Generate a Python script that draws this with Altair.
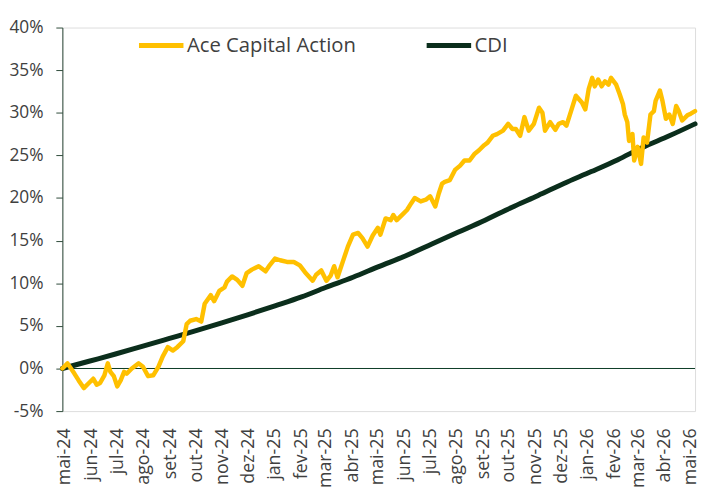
import altair as alt
import pandas as pd

MONTHS_PT = ['jan', 'fev', 'mar', 'abr', 'mai', 'jun', 'jul', 'ago', 'set', 'out', 'nov', 'dez']
SERIES = ['Ace Capital Action', 'CDI']
COLORS = ['#FFC000', '#0B2E1C']
Y_TICKS = [-5, 0, 5, 10, 15, 20, 25, 30, 35, 40]
X_DOMAIN = ['2024-04-28', '2026-05-06']

ace_dates = [
    '2024-04-28', '2024-05-04', '2024-05-12', '2024-05-17', '2024-05-23', '2024-05-29', '2024-06-03',
    '2024-06-07', '2024-06-11', '2024-06-16', '2024-06-20', '2024-06-23', '2024-06-27', '2024-07-01',
    '2024-07-05', '2024-07-09', '2024-07-12', '2024-07-18', '2024-07-26', '2024-07-31', '2024-08-06',
    '2024-08-12', '2024-08-18', '2024-08-23', '2024-08-29', '2024-09-04', '2024-09-09', '2024-09-16',
    '2024-09-20', '2024-09-24', '2024-10-01', '2024-10-07', '2024-10-11', '2024-10-18', '2024-10-22',
    '2024-10-28', '2024-11-03', '2024-11-06', '2024-11-12', '2024-11-18', '2024-11-24', '2024-11-29',
    '2024-12-05', '2024-12-13', '2024-12-21', '2024-12-25', '2025-01-01', '2025-01-07', '2025-01-15',
    '2025-01-23', '2025-01-30', '2025-02-05', '2025-02-14', '2025-02-18', '2025-02-24', '2025-03-02',
    '2025-03-07', '2025-03-11', '2025-03-15', '2025-03-22', '2025-03-27', '2025-04-02', '2025-04-08',
    '2025-04-13', '2025-04-19', '2025-04-25', '2025-05-01', '2025-05-04', '2025-05-10', '2025-05-16',
    '2025-05-19', '2025-05-23', '2025-05-29', '2025-06-04', '2025-06-09', '2025-06-13', '2025-06-20',
    '2025-06-26', '2025-07-01', '2025-07-07', '2025-07-11', '2025-07-15', '2025-07-18', '2025-07-24',
    '2025-07-30', '2025-08-05', '2025-08-10', '2025-08-16', '2025-08-22', '2025-08-27', '2025-09-02',
    '2025-09-06', '2025-09-12', '2025-09-17', '2025-09-24', '2025-09-30', '2025-10-05', '2025-10-09',
    '2025-10-14', '2025-10-19', '2025-10-24', '2025-10-30', '2025-11-05', '2025-11-09', '2025-11-12',
    '2025-11-18', '2025-11-24', '2025-11-28', '2025-12-03', '2025-12-07', '2025-12-13', '2025-12-18',
    '2025-12-25', '2025-12-29', '2026-01-02', '2026-01-06', '2026-01-09', '2026-01-13', '2026-01-17',
    '2026-01-21', '2026-01-25', '2026-01-28', '2026-02-03', '2026-02-07', '2026-02-11', '2026-02-13',
    '2026-02-16', '2026-02-18', '2026-02-22', '2026-02-24', '2026-02-28', '2026-03-04', '2026-03-07',
    '2026-03-11', '2026-03-15', '2026-03-19', '2026-03-21', '2026-03-26', '2026-03-29', '2026-04-02',
    '2026-04-06', '2026-04-10', '2026-04-14', '2026-04-17', '2026-04-21', '2026-04-27', '2026-05-01',
    '2026-05-06',
]
ace_values = [
    0.0, 0.6, -0.6, -1.4, -2.3, -1.7, -1.2,
    -1.9, -1.7, -0.8, 0.6, -0.4, -0.9, -2.1,
    -1.4, -0.4, -0.6, 0.0, 0.6, 0.2, -0.9,
    -0.8, 0.2, 1.4, 2.5, 2.1, 2.5, 3.2,
    5.2, 5.6, 5.8, 5.5, 7.6, 8.6, 7.9,
    9.1, 9.5, 10.2, 10.8, 10.4, 9.7, 11.2,
    11.6, 12.0, 11.4, 12.0, 12.9, 12.7, 12.5,
    12.5, 12.1, 11.3, 10.3, 11.0, 11.5, 10.3,
    10.9, 12.0, 10.7, 12.8, 14.3, 15.7, 15.9,
    15.3, 14.3, 15.6, 16.5, 15.7, 17.6, 17.4,
    18.0, 17.4, 18.0, 18.6, 19.4, 20.0, 19.6,
    19.8, 20.2, 19.0, 20.5, 21.7, 21.9, 22.1,
    23.3, 23.8, 24.4, 24.4, 25.2, 25.6, 26.2,
    26.5, 27.3, 27.5, 27.9, 28.7, 28.1, 28.1,
    27.3, 29.5, 27.9, 28.7, 30.6, 30.0, 27.9,
    28.9, 28.0, 28.7, 28.9, 28.5, 30.4, 32.0,
    31.2, 30.4, 32.8, 34.1, 33.1, 33.9, 33.1,
    33.7, 33.3, 34.1, 33.3, 32.2, 31.0, 29.8,
    28.9, 26.7, 27.5, 24.4, 26.0, 24.0, 27.1,
    26.5, 29.8, 30.2, 31.4, 32.6, 31.4, 29.3,
    29.8, 28.7, 30.8, 30.2, 29.1, 29.7, 29.9,
    30.2,
]

cdi_dates = [
    '2024-04-28', '2024-05-29', '2024-06-29', '2024-07-30', '2024-08-30', '2024-09-30', '2024-10-31',
    '2024-11-30', '2025-01-01', '2025-02-01', '2025-03-01', '2025-04-02', '2025-05-02', '2025-06-02',
    '2025-07-03', '2025-08-03', '2025-09-03', '2025-10-04', '2025-11-04', '2025-12-04', '2026-01-05',
    '2026-02-05', '2026-03-05', '2026-04-06', '2026-05-06',
]
cdi_values = [
    0.0, 0.85, 1.7, 2.6, 3.5, 4.4, 5.35,
    6.3, 7.35, 8.4, 9.5, 10.7, 11.95, 13.2,
    14.6, 16.0, 17.4, 18.9, 20.3, 21.7, 23.1,
    24.5, 25.9, 27.3, 28.7,
]

df_ace = pd.DataFrame({'data': ace_dates, 'valor': ace_values, 'serie': SERIES[0]})
df_cdi = pd.DataFrame({'data': cdi_dates, 'valor': cdi_values, 'serie': SERIES[1]})
df_zero = pd.DataFrame({'valor': [0]})

TEXT = '#404040'
AXIS_COL = '#2E4A3A'
FONT = 'Open Sans'


def utc_day(s):
    y, m, d = (int(p) for p in s.split('-'))
    return alt.DateTime(year=y, month=m, date=d, utc=True)


month_ticks = []
for yy in (2024, 2025, 2026):
    for mm in range(1, 13):
        if (2024, 5) <= (yy, mm) <= (2026, 5):
            month_ticks.append(alt.DateTime(year=yy, month=mm, date=1, utc=True))

month_arr = '[' + ','.join("'%s'" % m for m in MONTHS_PT) + ']'
label_expr = month_arr + "[utcmonth(datum.value)] + '-' + utcFormat(datum.value, '%y')"

x_enc = alt.X(
    'data:T',
    scale=alt.Scale(type='utc', domain=[utc_day(X_DOMAIN[0]), utc_day(X_DOMAIN[1])]),
    axis=alt.Axis(values=month_ticks, labelExpr=label_expr, labelAngle=-90, ticks=False,
                  domain=False, grid=False, labelPadding=17, labelFontSize=18,
                  labelColor=TEXT, labelFont=FONT, labelOverlap=False, labelFlush=False,
                  title=None),
)
y_enc = alt.Y(
    'valor:Q',
    scale=alt.Scale(domain=[-5, 40], nice=False, zero=False),
    axis=alt.Axis(values=Y_TICKS, labelExpr="datum.value + '%'", tickSize=6.6,
                  labelPadding=13, domainColor=AXIS_COL, tickColor=AXIS_COL, grid=False,
                  labelFontSize=17.5, labelColor=TEXT, labelFont=FONT, title=None),
)
color_enc = alt.Color(
    'serie:N',
    scale=alt.Scale(domain=SERIES, range=COLORS),
    legend=alt.Legend(orient='none', legendX=75, legendY=-7, direction='horizontal',
                      title=None, symbolType='stroke', symbolSize=2025, symbolStrokeWidth=5,
                      labelFontSize=20.5, labelColor=TEXT, labelFont=FONT, labelOffset=1,
                      columnPadding=60, labelLimit=400),
)

zero_rule = alt.Chart(df_zero).mark_rule(color='#0B3B24', strokeWidth=1).encode(y=y_enc)
cdi_line = alt.Chart(df_cdi).mark_line(strokeWidth=5, strokeCap='round', strokeJoin='round',
                                       interpolate='monotone').encode(x=x_enc, y=y_enc, color=color_enc)
ace_line = alt.Chart(df_ace).mark_line(strokeWidth=4.5, strokeCap='round',
                                       strokeJoin='round').encode(x=x_enc, y=y_enc, color=color_enc)

chart = alt.layer(zero_rule, cdi_line, ace_line).properties(
    width=640, height=388,
    autosize=alt.AutoSizeParams(type='none'),
    padding={'left': 55, 'top': 17, 'right': 4, 'bottom': 75},
).configure_view(stroke=None).configure(font=FONT)

chart.save('out.html', embed_options={'renderer': 'svg', 'actions': False})
